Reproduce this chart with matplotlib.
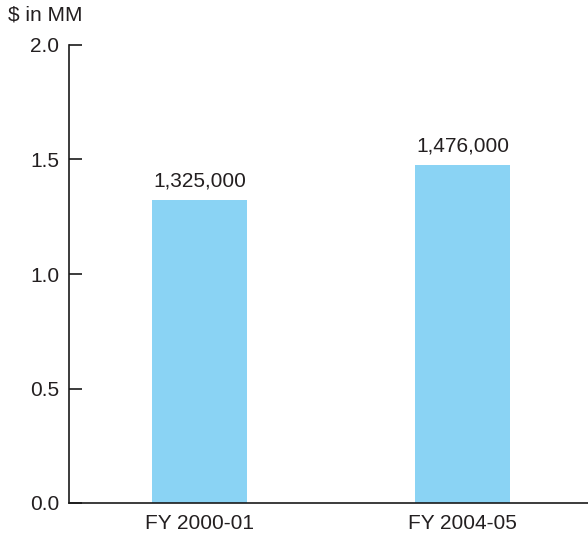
import matplotlib
matplotlib.use("Agg")
import matplotlib.pyplot as plt

categories = ["FY 2000-01", "FY 2004-05"]
values = [1325000, 1476000]
value_labels = ["1,325,000", "1,476,000"]
y_ticks = [0.0, 0.5, 1.0, 1.5, 2.0]
y_tick_labels = ["0.0", "0.5", "1.0", "1.5", "2.0"]

plt.rcParams["font.family"] = ["Liberation Sans", "DejaVu Sans"]
text_color = "#231f20"
bar_color = "#8ad3f4"

fig = plt.figure(figsize=(5.88, 5.35), dpi=100)
ax = fig.add_axes([69 / 588, 32 / 535, 1 - 69 / 588, (503 - 45) / 535])

scaled = [v / 1e6 for v in values]
x = list(range(len(categories)))
ax.bar(x, scaled, width=0.36, color=bar_color, zorder=2)

for xi, v, lab in zip(x, scaled, value_labels):
    ax.annotate(lab, (xi, v), xytext=(0, 6.5), textcoords="offset points",
                ha="center", va="bottom", fontsize=15, color=text_color)

ax.set_xlim(-0.496, 1.477)
ax.set_ylim(0, 2.0)
ax.set_yticks(y_ticks)
ax.set_yticklabels(y_tick_labels)
ax.set_xticks(x)
ax.set_xticklabels(categories)

for s in ("top", "right"):
    ax.spines[s].set_visible(False)
for s in ("left", "bottom"):
    ax.spines[s].set_linewidth(1.2)
    ax.spines[s].set_color("#1a1a1a")

ax.tick_params(axis="y", direction="in", length=9, width=1.2, pad=7,
               labelsize=15, labelcolor=text_color, color="#1a1a1a")
ax.tick_params(axis="x", length=0, pad=8, labelsize=15, labelcolor=text_color)

fig.text(8 / 588, 1 - 21 / 535, "$ in MM", fontsize=15, color=text_color,
         ha="left", va="baseline")

fig.savefig("out.png", dpi=100)
